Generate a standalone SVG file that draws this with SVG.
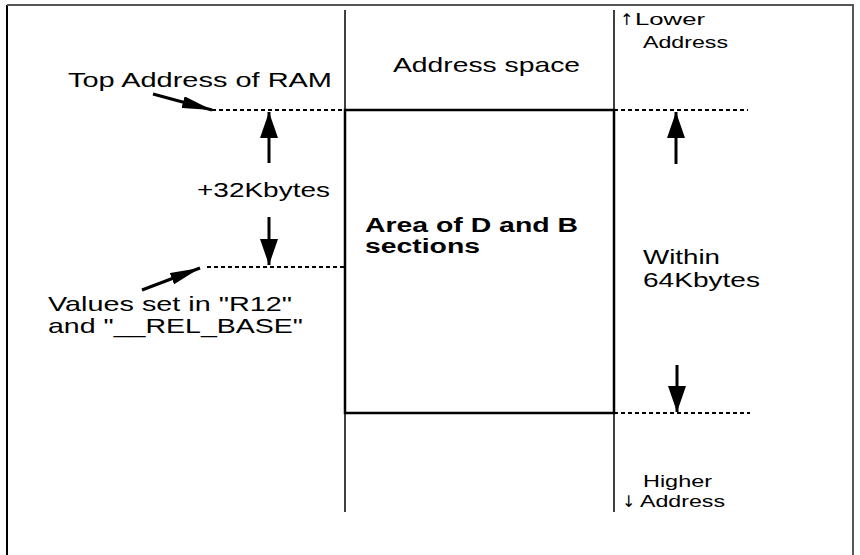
<svg xmlns="http://www.w3.org/2000/svg" width="860" height="555" viewBox="0 0 860 555">
<style>
text{font-family:"Liberation Sans",Arial,sans-serif;font-size:21px;fill:#000}
.sm{font-size:16.5px}
.b{font-weight:bold;font-size:20px}
.arw{font-family:"DejaVu Sans",sans-serif;font-size:16px}
.dash{stroke:#000;stroke-width:2;stroke-dasharray:4,3;fill:none}
.ln{stroke:#000;stroke-width:1.5;fill:none}
.ar{stroke:#000;stroke-width:3;fill:none}
</style>
<defs>
<marker id="vh" markerWidth="26" markerHeight="18" refX="26" refY="9" orient="auto" markerUnits="userSpaceOnUse" viewBox="0 0 26 18"><path d="M0,0 L26,9 L0,18 z" fill="#000"/></marker>
<marker id="ph" markerWidth="30" markerHeight="12" refX="30" refY="6" orient="auto" markerUnits="userSpaceOnUse" viewBox="0 0 30 12"><path d="M0,0 L30,6 L0,12 z" fill="#000"/></marker>
</defs>
<g id="frame">
<path d="M7,560 L7,5" stroke="#000" stroke-width="2" fill="none"/>
<path d="M7,5 L853,5 L853,560" stroke="#555" stroke-width="2" fill="none"/>
</g>
<g id="address-space">
<line class="ln" x1="345" y1="10" x2="345" y2="512"/>
<line class="ln" x1="614" y1="10" x2="614" y2="512"/>
<text x="393" y="72" textLength="187" lengthAdjust="spacingAndGlyphs">Address space</text>
</g>
<g id="area-db">
<rect x="345" y="110" width="269" height="303" fill="none" stroke="#000" stroke-width="2.5"/>
<text class="b" x="365" y="232" textLength="213" lengthAdjust="spacingAndGlyphs">Area of D and B</text>
<text class="b" x="365" y="253" textLength="115" lengthAdjust="spacingAndGlyphs">sections</text>
</g>
<g id="lower-address">
<text class="arw" x="620" y="25">↑</text>
<text class="sm" x="635" y="25" textLength="70" lengthAdjust="spacingAndGlyphs">Lower</text>
<text class="sm" x="643" y="48" textLength="85" lengthAdjust="spacingAndGlyphs">Address</text>
</g>
<g id="higher-address">
<text class="sm" x="643" y="487" textLength="69" lengthAdjust="spacingAndGlyphs">Higher</text>
<text class="arw" x="622" y="507">↓</text>
<text class="sm" x="640" y="507" textLength="85" lengthAdjust="spacingAndGlyphs">Address</text>
</g>
<g id="top-ram">
<text x="68" y="87" textLength="264" lengthAdjust="spacingAndGlyphs">Top Address of RAM</text>
</g>
<g id="rel-base">
<text x="48" y="311" textLength="244" lengthAdjust="spacingAndGlyphs">Values set in "R12"</text>
<text x="48" y="333" textLength="255" lengthAdjust="spacingAndGlyphs">and "__REL_BASE"</text>
</g>
<g id="size32">
<text x="197" y="197" textLength="133" lengthAdjust="spacingAndGlyphs">+32Kbytes</text>
</g>
<g id="size64">
<text x="643" y="264" textLength="77" lengthAdjust="spacingAndGlyphs">Within</text>
<text x="643" y="287" textLength="117" lengthAdjust="spacingAndGlyphs">64Kbytes</text>
</g>
<g id="connectors">
<line class="dash" x1="212" y1="110" x2="345" y2="110"/>
<line class="dash" x1="614" y1="110" x2="748" y2="110"/>
<line class="dash" x1="207" y1="267" x2="345" y2="267"/>
<line class="dash" x1="614" y1="413" x2="750" y2="413"/>
<line class="ar" x1="153" y1="94" x2="212" y2="110" marker-end="url(#ph)"/>
<line class="ar" x1="142" y1="290" x2="200" y2="268" marker-end="url(#ph)"/>
<line class="ar" x1="269" y1="163" x2="269" y2="112" marker-end="url(#vh)"/>
<line class="ar" x1="269" y1="217" x2="269" y2="265" marker-end="url(#vh)"/>
<line class="ar" x1="676" y1="164" x2="676" y2="112" marker-end="url(#vh)"/>
<line class="ar" x1="677" y1="365" x2="677" y2="412" marker-end="url(#vh)"/>
</g>
</svg>
